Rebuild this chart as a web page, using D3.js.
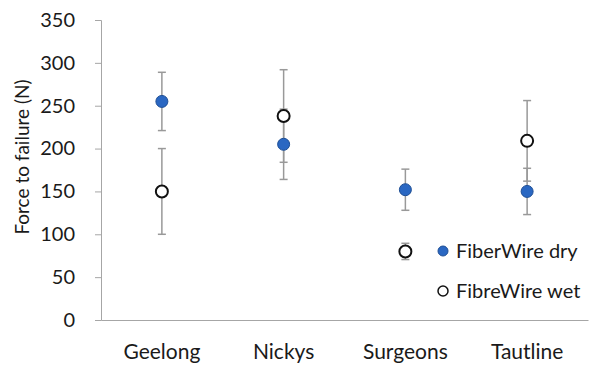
<!DOCTYPE html>
<html><head><meta charset="utf-8">
<script src="https://cdn.jsdelivr.net/npm/d3@7"></script>
<style>body{margin:0;background:#fff}svg{display:block}text{font-family:Lato,"Open Sans",sans-serif;fill:#1a1a1a}</style>
</head><body><svg id="c" width="597" height="366"></svg>
<script>
const categories = ["Geelong", "Nickys", "Surgeons", "Tautline"];
const dryValues = [255, 205, 152, 150];
const dryErrors = [34, 41, 24, 27];
const wetValues = [150, 238, 80, 209];
const wetErrors = [50, 54, 9.5, 47];
const yTicks = [0, 50, 100, 150, 200, 250, 300, 350];
const seriesNames = ["FiberWire dry", "FibreWire wet"];

(function () {
const svg = d3.select("#c");
const mLeft = 101, mRight = 588, mTop = 20, mBottom = 320;
const x = d3.scaleBand().domain(categories).range([mLeft, mRight]);
const y = d3.scaleLinear().domain([0, 350]).range([mBottom, mTop]);
const axisColor = "#a6a6a6";

const yAxis = svg.append("g").attr("transform", `translate(${mLeft},0)`)
  .call(d3.axisLeft(y).tickValues(yTicks).tickSize(6).tickPadding(20));
yAxis.select(".domain").attr("stroke", axisColor);
yAxis.selectAll(".tick line").attr("stroke", axisColor);
yAxis.selectAll(".tick text").attr("font-size", 20).attr("fill", "#1a1a1a").style("font-family", "Lato");

const xAxis = svg.append("g").attr("transform", `translate(0,${mBottom})`)
  .call(d3.axisBottom(x).tickSize(0).tickPadding(24));
xAxis.select(".domain").attr("stroke", axisColor);
xAxis.selectAll(".tick text").attr("font-size", 21).attr("fill", "#1a1a1a").style("font-family", "Lato");

svg.append("text").attr("transform", `translate(29,157) rotate(-90)`)
  .attr("text-anchor", "middle").attr("font-size", 19).text("Force to failure (N)");

const series = [
  {vals: dryValues, errs: dryErrors, fill: "#2a67c2", stroke: "#1f4f95", sw: 1},
  {vals: wetValues, errs: wetErrors, fill: "#fff", stroke: "#111", sw: 2}
];
const errCol = "#999";
series.forEach(s => {
  const g = svg.append("g");
  categories.forEach((c, i) => {
    const cx = x(c) + x.bandwidth() / 2;
    const lo = y(s.vals[i] - s.errs[i]), hi = y(s.vals[i] + s.errs[i]);
    g.append("line").attr("x1", cx).attr("x2", cx).attr("y1", lo).attr("y2", hi).attr("stroke", errCol).attr("stroke-width", 1.5);
    [lo, hi].forEach(v => g.append("line").attr("x1", cx - 4).attr("x2", cx + 4).attr("y1", v).attr("y2", v).attr("stroke", errCol).attr("stroke-width", 1.5));
  });
});
series.forEach(s => {
  categories.forEach((c, i) => {
    svg.append("circle").attr("cx", x(c) + x.bandwidth() / 2).attr("cy", y(s.vals[i])).attr("r", 6)
      .attr("fill", s.fill).attr("stroke", s.stroke).attr("stroke-width", s.sw);
  });
});

const leg = svg.append("g");
series.forEach((s, i) => {
  const ly = 251 + i * 40;
  leg.append("circle").attr("cx", 443).attr("cy", ly).attr("r", 5)
    .attr("fill", s.fill).attr("stroke", s.stroke).attr("stroke-width", i ? 1.5 : 1);
  leg.append("text").attr("x", 456).attr("y", ly + 7).attr("font-size", 20).text(seriesNames[i]);
});
})();
</script></body></html>
